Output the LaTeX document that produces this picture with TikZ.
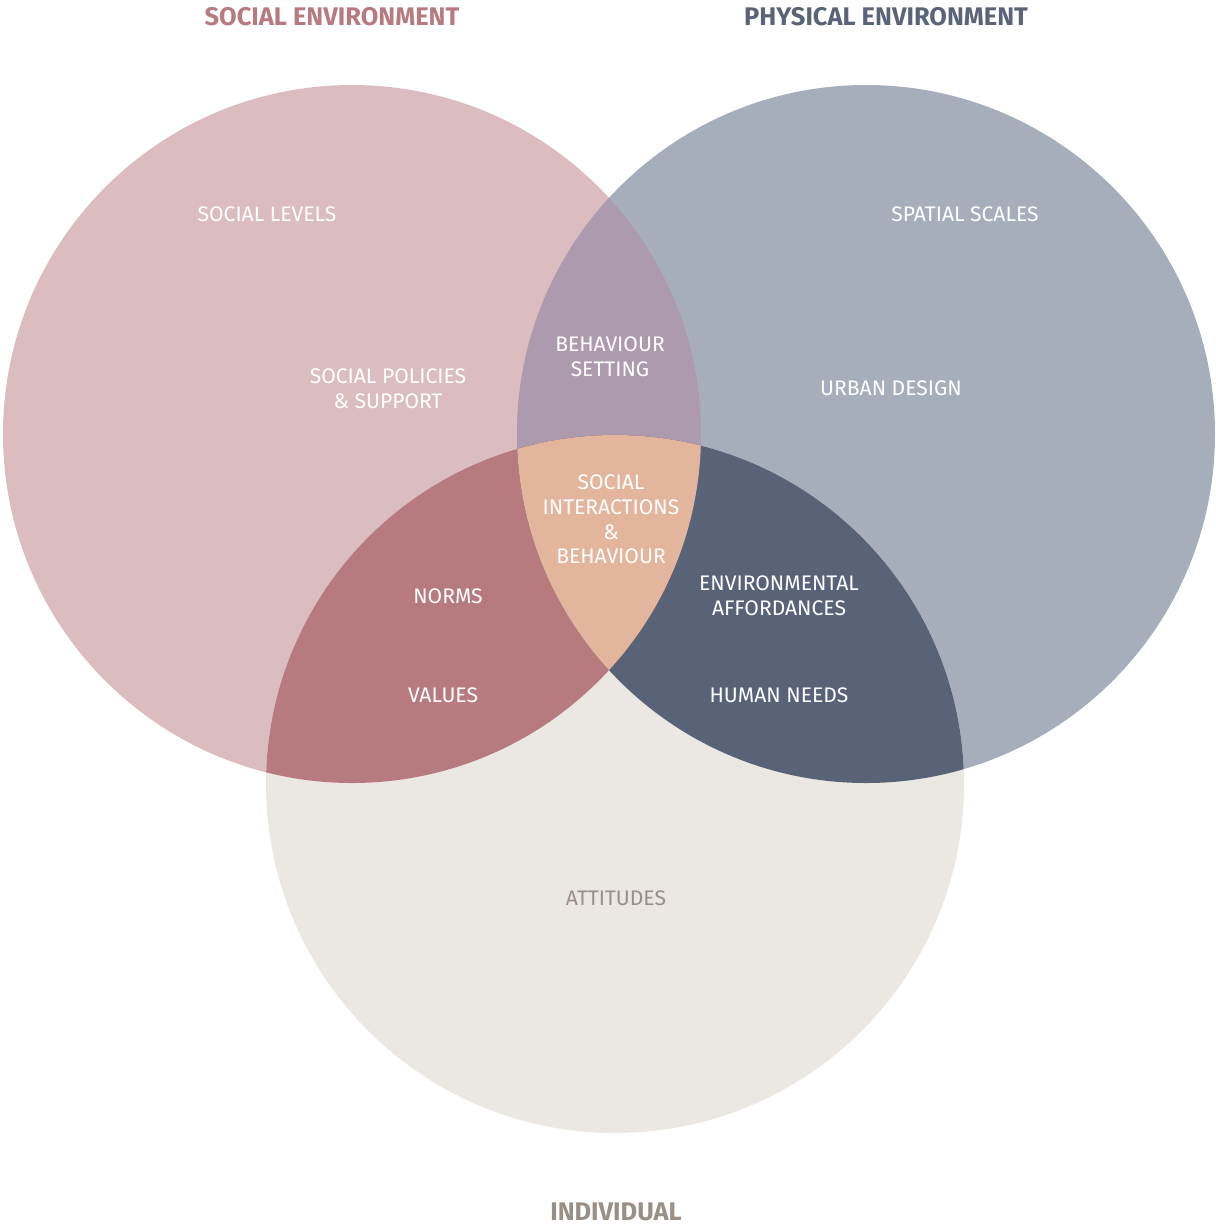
\documentclass[tikz,border=0pt]{standalone}
\usepackage{fontspec}
\setmainfont{Fira Sans}
\usepackage{tikz}
\usetikzlibrary{calc,positioning}
\definecolor{socialc}{HTML}{DBBDC0}
\definecolor{physc}{HTML}{A6AEBC}
\definecolor{indivc}{HTML}{EBE7E2}
\definecolor{socphys}{HTML}{AE9AAF}
\definecolor{socind}{HTML}{B77B7F}
\definecolor{physind}{HTML}{586377}
\definecolor{allc}{HTML}{E3B59D}
\definecolor{socialtxt}{HTML}{B77B7F}
\definecolor{phystxt}{HTML}{5A6478}
\definecolor{indivtxt}{HTML}{9A8F86}

\begin{document}
\begin{tikzpicture}[x=0.02cm,y=-0.02cm,
		lbl/.style={text=white,font=\fontsize{12}{14}\selectfont,align=center,inner sep=0pt},
		ttl/.style={font=\fontsize{14.5}{16}\selectfont\bfseries,inner sep=0pt}]
			\useasboundingbox (0,0) rectangle (1215,1225);
			\def\rr{349}
			\coordinate (S) at (352,434);
			\coordinate (P) at (866,434);
			\coordinate (I) at (615,784);
			
			% the three sets
			\fill[socialc] (S) circle (\rr);
			\fill[physc] (P) circle (\rr);
			\fill[indivc] (I) circle (\rr);
			% pairwise overlaps
			\foreach \a/\b/\c in {S/P/socphys,S/I/socind,P/I/physind}
			{
				\begin{scope}
					\clip (\a) circle (\rr);
					\fill[\c] (\b) circle (\rr);
				\end{scope}
			}
			% centre
			\begin{scope}
				\clip (S) circle (\rr);
				\clip (P) circle (\rr);
				\fill[allc] (I) circle (\rr);
			\end{scope}
			
			\node[ttl,text=socialtxt] (tsoc) at (332,17) {SOCIAL ENVIRONMENT};
			\node[ttl,text=phystxt] (tphy) at (886,17) {PHYSICAL ENVIRONMENT};
			\node[ttl,text=indivtxt] (tind) at (616,1212) {INDIVIDUAL};
			
			\foreach \n/\x/\y/\t in {slev/267/214/{SOCIAL LEVELS},
				sscl/965/214/{SPATIAL SCALES},
				spol/388/388.5/{SOCIAL POLICIES\\\& SUPPORT},
				bset/610/356.5/{BEHAVIOUR\\SETTING},
				urb/891/388/{URBAN DESIGN},
				sint/611/519.5/{SOCIAL\\INTERACTIONS\\\&\\BEHAVIOUR},
				norm/448/596/{NORMS},
				val/443/695/{VALUES},
				env/779/596/{ENVIRONMENTAL\\AFFORDANCES},
				hum/779/695/{HUMAN NEEDS}}
			\node[lbl] (\n) at (\x,\y) {\t};
			\node[lbl,text=indivtxt] (att) at (616,898) {ATTITUDES};
		\end{tikzpicture}
\end{document}
